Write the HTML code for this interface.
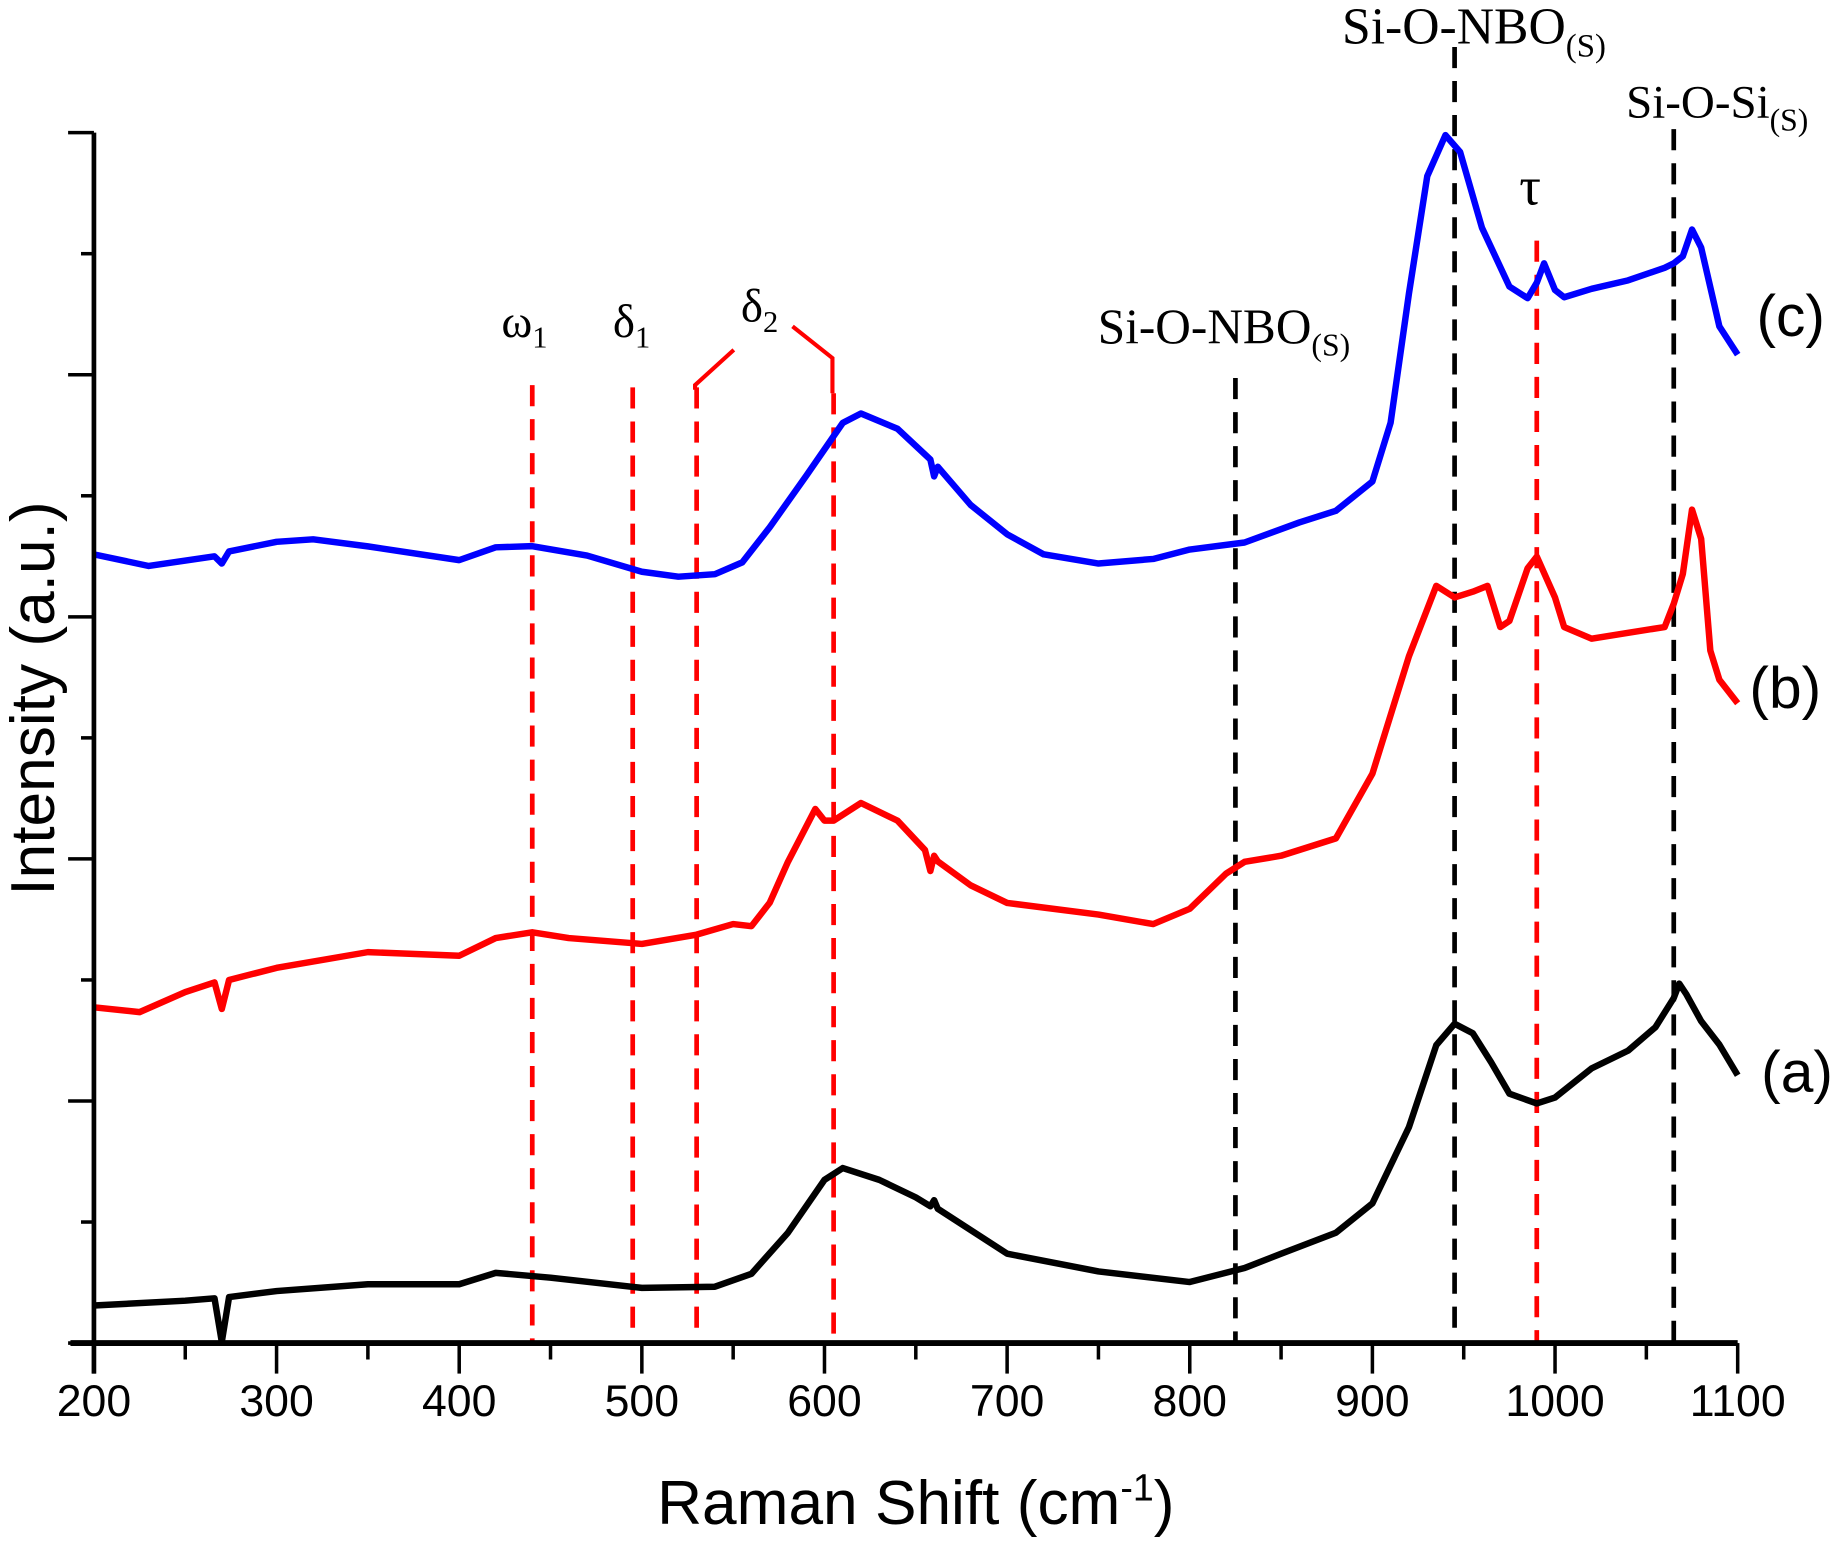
<!DOCTYPE html>
<html><head><meta charset="utf-8"><style>
html,body{margin:0;padding:0;background:#fff;}
svg{display:block;}
.tk{font-family:"Liberation Sans",sans-serif;font-size:38px;fill:#000;}
.ser{font-family:"Liberation Serif",serif;fill:#000;}
</style></head><body>
<svg id="chart" width="1841" height="1545" viewBox="0 0 1568 1316" preserveAspectRatio="none" xmlns="http://www.w3.org/2000/svg">
<g id="plot"></g>
<g id="axes"></g>
<g>
<text class="ser" x="427" y="287" font-size="40">ω<tspan font-size="26" dy="9">1</tspan></text>
<text class="ser" x="522" y="287" font-size="40">δ<tspan font-size="26" dy="9">1</tspan></text>
<text class="ser" x="631" y="274" font-size="40">δ<tspan font-size="26" dy="9">2</tspan></text>
<polyline points="592,332 592,328 625,298" fill="none" stroke="#f00" stroke-width="3.5"/>
<polyline points="675,278 709,305 709,335" fill="none" stroke="#f00" stroke-width="3.5"/>
<text class="ser" x="935" y="292" font-size="42">Si-O-NBO<tspan font-size="27" dy="11">(S)</tspan></text>
<text class="ser" x="1143" y="37" font-size="44">Si-O-NBO<tspan font-size="28" dy="11">(S)</tspan></text>
<text class="ser" x="1385" y="100" font-size="40">Si-O-Si<tspan font-size="27" dy="11">(S)</tspan></text>
<text class="ser" x="1294" y="174" font-size="46">τ</text>
<text class="tk" x="1496" y="286" style="font-size:50px">(c)</text>
<text class="tk" x="1490" y="603" style="font-size:50px">(b)</text>
<text class="tk" x="1500" y="930" style="font-size:50px">(a)</text>
</g>
<text class="tk" x="780" y="1298" text-anchor="middle" style="font-size:53px">Raman Shift (cm<tspan font-size="32" dy="-20">-1</tspan><tspan dy="20">)</tspan></text>
<text class="tk" transform="translate(46,595) rotate(-90)" text-anchor="middle" style="font-size:53px">Intensity (a.u.)</text>
</svg>
<script>
const xTicks=[200,300,400,500,600,700,800,900,1000,1100];
const seriesA_x=[200,250,266,270,274,300,350,400,420,450,500,540,560,580,600,610,630,650,658,660,662,700,750,800,830,850,880,900,920,935,945,955,965,975,990,1000,1020,1040,1055,1065,1068,1072,1080,1090,1100];
const seriesA_y=[0.155,0.175,0.185,0.005,0.19,0.215,0.243,0.243,0.29,0.27,0.228,0.233,0.286,0.456,0.674,0.723,0.674,0.602,0.565,0.59,0.555,0.369,0.296,0.252,0.31,0.369,0.456,0.577,0.892,1.231,1.319,1.28,1.16,1.03,0.99,1.014,1.135,1.208,1.305,1.426,1.485,1.44,1.33,1.233,1.106];
const seriesB_x=[200,225,250,266,270,274,300,350,400,420,440,460,500,530,550,560,570,580,590,595,600,605,620,640,655,658,660,662,680,700,750,780,800,820,830,850,880,900,920,935,945,955,963,970,975,985,990,1000,1005,1020,1040,1060,1065,1070,1075,1080,1085,1090,1100];
const seriesB_y=[1.387,1.367,1.45,1.49,1.38,1.5,1.55,1.615,1.6,1.673,1.697,1.673,1.649,1.687,1.731,1.722,1.819,1.988,2.134,2.206,2.158,2.158,2.231,2.158,2.037,1.95,2.013,1.99,1.891,1.818,1.77,1.731,1.794,1.94,1.988,2.013,2.085,2.352,2.837,3.128,3.08,3.104,3.128,2.958,2.983,3.201,3.249,3.08,2.958,2.91,2.934,2.958,3.055,3.177,3.443,3.322,2.861,2.74,2.643];
const seriesC_x=[200,230,266,270,274,300,320,350,400,420,440,470,500,520,540,555,570,590,610,620,640,658,660,662,680,700,720,750,780,800,830,860,880,900,910,920,930,940,948,960,975,985,990,994,1000,1005,1020,1040,1060,1065,1070,1075,1080,1090,1100];
const seriesC_y=[3.258,3.21,3.25,3.22,3.27,3.31,3.32,3.291,3.234,3.287,3.292,3.253,3.186,3.166,3.176,3.225,3.37,3.583,3.801,3.84,3.777,3.65,3.58,3.62,3.462,3.341,3.258,3.22,3.239,3.278,3.307,3.39,3.438,3.559,3.802,4.335,4.82,4.99,4.92,4.607,4.364,4.316,4.38,4.46,4.35,4.32,4.355,4.39,4.442,4.46,4.49,4.6,4.525,4.2,4.083];
const redMarkers=[440,495,530,605,990];
const blackMarkers=[825,945,1065];
const redTops=[328,330,330,335,205];
const blackTops=[322,40,110];
const NS='http://www.w3.org/2000/svg';
const X0=80,X1=1480,Y0=1144,Y1=113,XMIN=200,XMAX=1100,YMAX=5;
function sx(w){return X0+(w-XMIN)/(XMAX-XMIN)*(X1-X0);}
function sy(v){return Y0-v/YMAX*(Y0-Y1);}
function mk(t,a){const e=document.createElementNS(NS,t);for(const k in a)e.setAttribute(k,a[k]);return e;}
const plot=document.getElementById('plot'),axes=document.getElementById('axes');
redMarkers.forEach((w,i)=>{const l=mk('line',{x1:sx(w),x2:sx(w),y1:redTops[i],y2:Y0,stroke:'#f00','stroke-width':4,'stroke-dasharray':'18 11'});


plot.appendChild(l);});
blackMarkers.forEach((w,i)=>{const l=mk('line',{x1:sx(w),x2:sx(w),y1:blackTops[i],y2:Y0,stroke:'#000','stroke-width':4,'stroke-dasharray':'18 11'});


plot.appendChild(l);});
function drawSeries(xs,ys,color,name){const p=mk('path',{d:xs.map((w,i)=>(i?'L':'M')+sx(w).toFixed(1)+','+sy(ys[i]).toFixed(1)).join(''),fill:'none',stroke:color,'stroke-width':5.5,'stroke-linejoin':'round'});


plot.appendChild(p);}
drawSeries(seriesA_x,seriesA_y,'#000','series-a');
drawSeries(seriesB_x,seriesB_y,'#f00','series-b');
drawSeries(seriesC_x,seriesC_y,'#00f','series-c');
const xa=mk('line',{x1:X0-20,x2:X1,y1:Y0,y2:Y0,stroke:'#000','stroke-width':5});


axes.appendChild(xa);
const ya=mk('line',{x1:X0,x2:X0,y1:Y1,y2:Y0+26,stroke:'#000','stroke-width':4});


axes.appendChild(ya);
xTicks.forEach(w=>{const t=mk('line',{x1:sx(w),x2:sx(w),y1:Y0,y2:Y0+26,stroke:'#000','stroke-width':3});


axes.appendChild(t);
const m=mk('line',{x1:sx(w+50),x2:sx(w+50),y1:Y0,y2:Y0+14,stroke:'#000','stroke-width':3});
if(w<1100){

axes.appendChild(m);}
const tx=mk('text',{x:sx(w),y:Y0+62,'text-anchor':'middle',class:'tk'});tx.textContent=w;


axes.appendChild(tx);});
for(let i=0;i<=10;i++){const v=i/2,len=(i%2==0)?22:11;const t=mk('line',{x1:X0-len,x2:X0,y1:sy(v),y2:sy(v),stroke:'#000','stroke-width':3});


axes.appendChild(t);}
</script>
</body></html>
